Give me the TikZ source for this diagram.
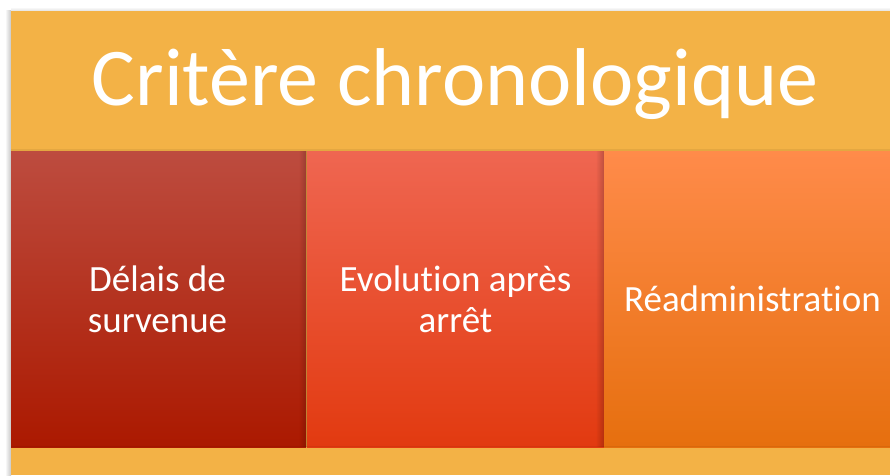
\documentclass[tikz,border=0pt]{standalone}
\usepackage{fontspec}
\setmainfont{Carlito}[Ligatures={NoCommon,NoRequired,NoContextual}]
\usetikzlibrary{fadings}
\tikzfading[name=shadowfade, left color=transparent!100, right color=transparent!0]
\definecolor{bgorange}{HTML}{F3B246}
\definecolor{aTop}{HTML}{BD4C3F}
\definecolor{aMid}{HTML}{B82206}
\definecolor{aBot}{HTML}{AB1900}
\definecolor{bTop}{HTML}{EF6651}
\definecolor{bMid}{HTML}{E9481F}
\definecolor{bBot}{HTML}{E23A10}
\definecolor{cTop}{HTML}{FF8B4A}
\definecolor{cMid}{HTML}{FB8130}
\definecolor{cBot}{HTML}{E66F0E}
\tikzset{
  colbox/.style={shade, minimum width=297pt, minimum height=296pt, inner sep=0pt,
    align=center, text=white, font=\fontsize{37}{41}\selectfont},
  shadowstrip/.style={fill=black, opacity=0.2, path fading=shadowfade}
}
\begin{document}
\begin{tikzpicture}[x=1pt,y=1pt]
\useasboundingbox (0,0) rectangle (890,475);
\fill[white] (0,0) rectangle (890,475);
\shade[left color=white, right color=black!22] (5,0) rectangle (11,464);
\shade[bottom color=black!12, top color=white] (11,464) rectangle (890,468);
\fill[bgorange] (11,0) rectangle (890,464);
\begin{scope}
\clip (11,0) rectangle (890,464);
\node[colbox, top color=aTop, middle color=aMid, bottom color=aBot] (b1) at (157.5,176) {Délais de\\survenue};
\node[colbox, top color=bTop, middle color=bMid, bottom color=bBot] (b2) at (455.5,176) {Evolution après\\arrêt};
\node[colbox, top color=cTop, middle color=cMid, bottom color=cBot] (b3) at (752.5,176) {Réadministration};
\fill[shadowstrip] ([xshift=-8pt]b2.south west) rectangle (b2.north west);
\fill[shadowstrip] ([xshift=-8pt]b3.south west) rectangle (b3.north west);
\fill[black, opacity=0.06] (b1.north west) rectangle ([yshift=1.5pt]b3.north east);
\fill[black, opacity=0.06] (b1.south west) rectangle ([yshift=1.5pt]b3.south east);
\end{scope}
\node[text=white, font=\fontsize{82}{90}\selectfont, anchor=base] (title) at (455,370) {Critère chronologique};
\end{tikzpicture}
\end{document}
